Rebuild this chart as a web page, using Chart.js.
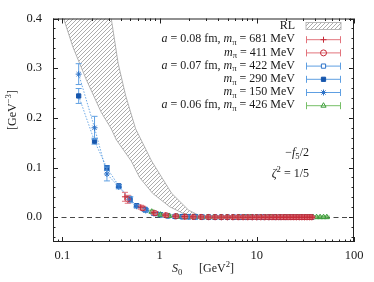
<!DOCTYPE html>
<html>
<head>
<meta charset="utf-8">
<script src="https://cdn.jsdelivr.net/npm/chart.js@4/dist/chart.umd.min.js"></script>
<style>
  html, body { margin: 0; padding: 0; background: #fff; }
</style>
</head>
<body>
<canvas id="myChart" width="374" height="282"></canvas>
<script>
// RL band (lower and upper edge), S0 in GeV^2, value in GeV^-3
const bandLowS  = [0.103, 0.128, 0.176, 0.251, 0.318, 0.358, 0.511, 0.622, 0.847, 1.27, 1.88, 2.6, 3.4];
const bandLowV  = [0.400, 0.343, 0.277, 0.211, 0.178, 0.156, 0.113, 0.080, 0.048, 0.021, 0.0045, 0.0008, 0.0];
const bandHighS = [0.318, 0.374, 0.447, 0.566, 0.827, 1.33, 1.99, 2.58, 3.4];
const bandHighV = [0.400, 0.310, 0.245, 0.178, 0.113, 0.048, 0.014, 0.003, 0.0];

// a = 0.08 fm, m_pi = 681 MeV
const S_681 = [0.44, 0.64, 0.87, 1.14, 1.45, 1.8, 2.2, 2.65, 3.15, 3.7, 4.3, 4.95, 5.65, 6.4, 7.2, 8.1, 9.0, 10.0,
  11.1, 12.2, 13.4, 14.7, 16.0, 17.4, 18.9, 20.4, 22.0, 23.7, 25.4, 27.2, 29.1, 31.0, 33.0, 35.1, 37.2];
const V_681 = [0.041, 0.020, 0.009, 0.0042, 0.0021, 0.0011, 0.0006, 0.0004, 0.0003, 0.0002, 0.0002, 0.0001, 0.0001, 0.0001,
  0, 0, 0, 0, 0, 0, 0, 0, 0, 0, 0, 0, 0, 0, 0, 0, 0, 0, 0, 0, 0];
const E_681 = [0.009, 0.004, 0.003, 0.002, 0.002, 0.002, 0.002, 0.002, 0.002, 0.002, 0.002, 0.002, 0.002, 0.002,
  0.002, 0.002, 0.002, 0.002, 0.002, 0.002, 0.002, 0.002, 0.002, 0.002, 0.002, 0.002, 0.002, 0.002, 0.002, 0.002,
  0.002, 0.002, 0.002, 0.002, 0.002];

// m_pi = 411 MeV
const S_411 = [0.47, 0.67, 0.9, 1.17, 1.48, 1.83, 2.23, 2.68, 3.18, 3.73, 4.33, 4.98, 5.68, 6.43, 7.23, 8.08, 8.98, 9.93,
  10.9, 12.0, 13.1, 14.3, 15.5, 16.8, 18.1, 19.5, 21.0, 22.5, 24.1, 25.7, 27.4, 29.1, 30.9, 32.8, 34.7, 36.6];
const V_411 = [0.036, 0.018, 0.008, 0.0038, 0.0019, 0.001, 0.0005, 0.0003, 0.0002, 0.0001,
  0, 0, 0, 0, 0, 0, 0, 0, 0, 0, 0, 0, 0, 0, 0, 0, 0, 0, 0, 0, 0, 0, 0, 0, 0, 0];
const E_411 = [0.008, 0.004, 0.003, 0.002, 0.002, 0.002, 0.002, 0.002, 0.002, 0.002, 0.002, 0.002,
  0.002, 0.002, 0.002, 0.002, 0.002, 0.002, 0.002, 0.002, 0.002, 0.002, 0.002, 0.002, 0.002, 0.002,
  0.002, 0.002, 0.002, 0.002, 0.002, 0.002, 0.002, 0.002, 0.002, 0.002];

// a = 0.07 fm, m_pi = 422 MeV
const S_422 = [0.5, 0.7, 0.93, 1.2, 1.5, 1.85, 2.25, 2.7, 3.2, 3.75, 4.35, 5.0, 5.7, 6.5, 7.3, 8.2, 9.2, 10.2,
  11.3, 12.5, 13.8, 15.1, 16.5, 18.0, 19.6, 21.2, 22.9, 24.7, 26.6, 28.5, 30.5, 32.6, 34.7, 37.0];
const V_422 = [0.035, 0.016, 0.0068, 0.0034, 0.0018, 0.001, 0.0005, 0.0003, 0.0002, 0.0001,
  0, 0, 0, 0, 0, 0, 0, 0, 0, 0, 0, 0, 0, 0, 0, 0, 0, 0, 0, 0, 0, 0, 0, 0];
const E_422 = [0.006, 0.004, 0.003, 0.002, 0.002, 0.002, 0.002, 0.002, 0.002, 0.002, 0.002, 0.002,
  0.002, 0.002, 0.002, 0.002, 0.002, 0.002, 0.002, 0.002, 0.002, 0.002, 0.002, 0.002, 0.002, 0.002,
  0.002, 0.002, 0.002, 0.002, 0.002, 0.002, 0.002, 0.002];

// m_pi = 290 MeV
const S_290 = [0.147, 0.214, 0.287, 0.38, 0.49, 0.58, 0.72, 0.87, 1.03, 1.22, 1.44, 1.7, 2.0, 2.35, 2.75, 3.2, 3.7,
  4.3, 5.0, 5.8, 6.7, 7.7, 8.9, 10.2, 11.7, 13.4, 15.3, 17.4, 19.8, 22.5, 25.5, 28.8, 32.5, 36.6];
const V_290 = [0.244, 0.153, 0.099, 0.063, 0.038, 0.023, 0.0145, 0.0082, 0.0046, 0.0026, 0.0015, 0.0009, 0.0006,
  0.0004, 0.0003, 0.0002, 0.0001, 0.0001, 0, 0, 0, 0, 0, 0, 0, 0, 0, 0, 0, 0, 0, 0, 0, 0];
const E_290 = [0.015, 0.006, 0.005, 0.003, 0.003, 0.003, 0.002, 0.002, 0.002, 0.002, 0.002, 0.002,
  0.002, 0.002, 0.002, 0.002, 0.002, 0.002, 0.002, 0.002, 0.002, 0.002, 0.002, 0.002, 0.002, 0.002,
  0.002, 0.002, 0.002, 0.002, 0.002, 0.002, 0.002, 0.002];

// m_pi = 150 MeV
const S_150 = [0.147, 0.214, 0.287, 0.38, 0.49, 0.58, 0.72, 0.87, 1.03, 1.22, 1.44, 1.7, 2.0, 2.35, 2.75, 3.2, 3.7,
  4.3, 5.0, 5.8, 6.7, 7.7, 8.9, 10.2, 11.7, 13.4, 15.3, 17.4, 19.8];
const V_150 = [0.288, 0.180, 0.087, 0.061, 0.036, 0.022, 0.0135, 0.0076, 0.0042, 0.0023, 0.0013, 0.0008, 0.0005,
  0.0003, 0.0002, 0.0001, 0.0001, 0, 0, 0, 0, 0, 0, 0, 0, 0, 0, 0, 0];
const E_150 = [0.021, 0.023, 0.014, 0.004, 0.004, 0.003, 0.003, 0.002, 0.002, 0.002, 0.002, 0.002,
  0.002, 0.002, 0.002, 0.002, 0.002, 0.002, 0.002, 0.002, 0.002, 0.002, 0.002, 0.002, 0.002, 0.002,
  0.002, 0.002, 0.002];

// a = 0.06 fm, m_pi = 426 MeV
const S_426 = [0.83, 1.02, 1.25, 1.52, 1.84, 2.2, 2.62, 3.1, 3.64, 4.25, 4.93, 5.7, 6.55, 7.5, 8.55, 9.7, 11.0,
  12.4, 13.9, 15.6, 17.4, 19.4, 21.5, 23.8, 26.2, 28.8, 31.6, 34.6, 37.8, 41.2, 44.8, 48.6, 52.5];
const V_426 = [0.011, 0.005, 0.0025, 0.0012, 0.0007, 0.0004, 0.0002, 0.0001,
  0, 0, 0, 0, 0, 0, 0, 0, 0, 0, 0, 0, 0, 0, 0, 0, 0, 0, 0, 0, 0, 0, 0, 0, 0];
const E_426 = [0.003, 0.002, 0.002, 0.002, 0.002, 0.002, 0.002, 0.002, 0.002, 0.002, 0.002, 0.002,
  0.002, 0.002, 0.002, 0.002, 0.002, 0.002, 0.002, 0.002, 0.002, 0.002, 0.002, 0.002, 0.002, 0.002,
  0.002, 0.002, 0.002, 0.002, 0.002, 0.002, 0.002];

const xTicks = [0.1, 1, 10, 100];

const SERIF = '"Liberation Serif", "DejaVu Serif", serif';
const INK = '#1a1a1a';
const RED = '#c42a38', RED_L = '#e2737c';
const BLUE = '#2f73c8', BLUE_L = '#5e9fe2', BLUE_D = '#1656ad';
const GREEN = '#3d9c3d', GREEN_L = '#77bf68';
const TXT = 12;

const ctx = document.getElementById('myChart');

function hatchPattern() {
  const c = document.createElement('canvas');
  c.width = 4; c.height = 4;
  const g = c.getContext('2d');
  g.fillStyle = '#fff';
  g.fillRect(0, 0, 4, 4);
  g.strokeStyle = '#a3a3a3';
  g.lineWidth = 0.9;
  g.beginPath();
  g.moveTo(-1, 5); g.lineTo(5, -1);
  g.moveTo(-1, 1); g.lineTo(1, -1);
  g.moveTo(3, 5); g.lineTo(5, 3);
  g.stroke();
  return ctx.getContext('2d').createPattern(c, 'repeat');
}
const HATCH = hatchPattern();

const pts = (S, V) => S.map((s, i) => ({ x: s, y: V[i] }));
const bandShape = pts(bandLowS, bandLowV).concat(pts(bandHighS, bandHighV).reverse());

// small latex-ish text: [text, font, shift in em]
function rich(c, parts, x, y, align, size) {
  const fonts = {
    r: size + 'px ' + SERIF,
    i: 'italic ' + size + 'px ' + SERIF,
    s: (size * 0.72) + 'px ' + SERIF
  };
  let w = 0;
  parts.forEach(p => { c.font = fonts[p[1]]; w += c.measureText(p[0]).width; });
  let cx = align === 'right' ? x - w : align === 'center' ? x - w / 2 : x;
  c.textAlign = 'left';
  c.textBaseline = 'middle';
  parts.forEach(p => {
    c.font = fonts[p[1]];
    c.fillText(p[0], cx, y + (p[2] || 0) * size);
    cx += c.measureText(p[0]).width;
  });
}

const legendRows = [
  { parts: [['RL', 'r']], band: true },
  { parts: [['a', 'i'], [' = 0.08 fm, ', 'r'], ['m', 'i'], ['π', 's', 0.3], [' = 681 MeV', 'r']],
    line: RED_L, stroke: RED, fill: RED, style: 'cross' },
  { parts: [['m', 'i'], ['π', 's', 0.3], [' = 411 MeV', 'r']],
    line: RED_L, stroke: RED, fill: 'rgba(0,0,0,0)', style: 'circle' },
  { parts: [['a', 'i'], [' = 0.07 fm, ', 'r'], ['m', 'i'], ['π', 's', 0.3], [' = 422 MeV', 'r']],
    line: BLUE_L, stroke: BLUE, fill: '#fff', style: 'rect' },
  { parts: [['m', 'i'], ['π', 's', 0.3], [' = 290 MeV', 'r']],
    line: BLUE_L, stroke: BLUE_D, fill: BLUE_D, style: 'rect' },
  { parts: [['m', 'i'], ['π', 's', 0.3], [' = 150 MeV', 'r']],
    line: BLUE_L, stroke: BLUE, fill: BLUE, style: 'star' },
  { parts: [['a', 'i'], [' = 0.06 fm, ', 'r'], ['m', 'i'], ['π', 's', 0.3], [' = 426 MeV', 'r']],
    line: GREEN_L, stroke: GREEN, fill: 'rgba(0,0,0,0)', style: 'triangle' }
];

const decor = {
  id: 'decor',
  beforeDatasetsDraw(chart) {
    const { ctx: c, chartArea: a, scales: { y } } = chart;
    const y0 = Math.round(y.getPixelForValue(0)) + 0.5;
    c.save();
    c.strokeStyle = '#333';
    c.lineWidth = 0.9;
    c.setLineDash([5, 3.5]);
    c.beginPath(); c.moveTo(a.left, y0); c.lineTo(a.right, y0); c.stroke();
    c.restore();
  },
  beforeDatasetDraw(chart, args) {
    const ds = chart.data.datasets[args.index];
    if (!ds.errors) return;
    const { ctx: c, chartArea: a, scales: { x, y } } = chart;
    c.save();
    c.beginPath(); c.rect(a.left, a.top, a.right - a.left, a.bottom - a.top); c.clip();
    c.strokeStyle = ds.errColor;
    c.lineWidth = 1;
    ds.data.forEach((p, i) => {
      const e = ds.errors[i];
      if (!e) return;
      const px = x.getPixelForValue(p.x);
      const t = y.getPixelForValue(p.y + e), b = y.getPixelForValue(p.y - e);
      c.beginPath();
      c.moveTo(px, t); c.lineTo(px, b);
      c.moveTo(px - 3, t); c.lineTo(px + 3, t);
      c.moveTo(px - 3, b); c.lineTo(px + 3, b);
      c.stroke();
    });
    c.restore();
  },
  afterDatasetsDraw(chart) {
    const { ctx: c, chartArea: a, scales: { x, y } } = chart;
    c.save();
    c.strokeStyle = '#222';
    c.lineWidth = 1;
    c.strokeRect(a.left + 0.5, a.top + 0.5, a.right - a.left - 1, a.bottom - a.top - 1);
    c.beginPath();
    for (let e = -2; e <= 2; e++) {
      for (let k = 1; k <= 9; k++) {
        const v = k * Math.pow(10, e);
        if (v < 0.0799 || v > 100.01) continue;
        const px = Math.round(x.getPixelForValue(v)) + 0.5;
        const len = k === 1 ? 5 : 2.5;
        c.moveTo(px, a.bottom); c.lineTo(px, a.bottom - len);
        c.moveTo(px, a.top); c.lineTo(px, a.top + len);
      }
    }
    for (let i = -2; i <= 20; i++) {
      const py = Math.round(y.getPixelForValue(i * 0.02)) + 0.5;
      const len = i % 5 === 0 ? 5 : 2.5;
      c.moveTo(a.left, py); c.lineTo(a.left + len, py);
      c.moveTo(a.right, py); c.lineTo(a.right - len, py);
    }
    c.stroke();
    c.restore();
  },
  afterDraw(chart) {
    const c = chart.ctx;
    c.save();
    // legend
    legendRows.forEach((row, i) => {
      const ly = 26 + i * 13.2;
      c.fillStyle = INK;
      rich(c, row.parts, 295, ly, 'right', TXT);
      if (row.band) {
        c.fillStyle = HATCH;
        c.fillRect(306, ly - 3.5, 35, 7);
        c.strokeStyle = '#a8a8a8';
        c.lineWidth = 0.8;
        c.strokeRect(306, ly - 3.5, 35, 7);
        return;
      }
      c.strokeStyle = row.line;
      c.lineWidth = 1;
      c.beginPath();
      c.moveTo(306, ly + 0.5); c.lineTo(341, ly + 0.5);
      c.moveTo(306.5, ly - 3); c.lineTo(306.5, ly + 4);
      c.moveTo(340.5, ly - 3); c.lineTo(340.5, ly + 4);
      c.stroke();
      c.strokeStyle = row.stroke;
      c.fillStyle = row.fill;
      Chart.helpers.drawPoint(c, { pointStyle: row.style, radius: 3, borderWidth: 1, rotation: 0 }, 323.5, ly + 0.5);
    });
    // annotation
    c.fillStyle = INK;
    rich(c, [['−', 'r'], ['f', 'i'], ['5', 's', 0.3], ['/2', 'r']], 309, 153, 'right', TXT);
    rich(c, [['ζ', 'i'], ['2', 's', -0.35], [' = 1/5', 'r']], 309, 174, 'right', TXT);
    // axis titles
    rich(c, [['S', 'i'], ['0', 's', 0.3]], 172, 269, 'left', TXT);
    rich(c, [['[GeV', 'r'], ['2', 's', -0.35], [']', 'r']], 199, 269, 'left', TXT);
    c.translate(13, 110);
    c.rotate(-Math.PI / 2);
    rich(c, [['[GeV', 'r'], ['−3', 's', -0.35], [']', 'r']], 0, 0, 'center', TXT);
    c.restore();
  }
};

Chart.defaults.font.family = SERIF;
Chart.defaults.font.size = 12.5;
Chart.defaults.color = INK;

new Chart(ctx, {
  type: 'scatter',
  data: {
    datasets: [
      { label: 'RL', data: bandShape, showLine: true, fill: 'shape', backgroundColor: HATCH,
        borderColor: '#a0a0a0', borderWidth: 0.8, pointRadius: 0, order: 10 },
      { label: 'm_pi = 290 MeV', data: pts(S_290, V_290), errors: E_290, errColor: BLUE_L,
        showLine: true, borderColor: BLUE_L, borderWidth: 0.9, borderDash: [1.5, 1.5],
        pointStyle: 'rect', pointRadius: 3, pointBackgroundColor: BLUE_D, pointBorderColor: BLUE_D,
        pointBorderWidth: 1, order: 6 },
      { label: 'm_pi = 150 MeV', data: pts(S_150, V_150), errors: E_150, errColor: BLUE_L,
        showLine: true, borderColor: BLUE_L, borderWidth: 0.9, borderDash: [1.5, 1.5],
        pointStyle: 'star', pointRadius: 3, pointBackgroundColor: BLUE, pointBorderColor: BLUE,
        pointBorderWidth: 1, order: 5 },
      { label: 'a = 0.07 fm, m_pi = 422 MeV', data: pts(S_422, V_422), errors: E_422, errColor: BLUE_L,
        pointStyle: 'rect', pointRadius: 2.8, pointBackgroundColor: 'rgba(0,0,0,0)', pointBorderColor: BLUE,
        pointBorderWidth: 1, order: 4 },
      { label: 'a = 0.06 fm, m_pi = 426 MeV', data: pts(S_426, V_426), errors: E_426, errColor: GREEN_L,
        pointStyle: 'triangle', pointRadius: 3, pointBackgroundColor: 'rgba(0,0,0,0)', pointBorderColor: GREEN,
        pointBorderWidth: 1, order: 3 },
      { label: 'm_pi = 411 MeV', data: pts(S_411, V_411), errors: E_411, errColor: RED_L,
        pointStyle: 'circle', pointRadius: 2.6, pointBackgroundColor: 'rgba(0,0,0,0)', pointBorderColor: RED,
        pointBorderWidth: 1, order: 2 },
      { label: 'a = 0.08 fm, m_pi = 681 MeV', data: pts(S_681, V_681), errors: E_681, errColor: RED_L,
        pointStyle: 'cross', pointRadius: 3, pointBorderColor: RED, pointBorderWidth: 1, order: 1 }
    ]
  },
  options: {
    responsive: false,
    animation: false,
    events: [],
    layout: { autoPadding: false, padding: { left: 0, right: 20, top: 9.7, bottom: 0 } },
    plugins: {
      legend: { display: false },
      tooltip: { enabled: false }
    },
    scales: {
      x: {
        type: 'logarithmic',
        min: 0.08,
        max: 100,
        grid: { display: false, drawTicks: false },
        border: { display: false },
        afterFit: s => { s.height = 40; },
        afterBuildTicks: s => { s.ticks = xTicks.map(v => ({ value: v })); },
        ticks: {
          autoSkip: false,
          maxRotation: 0,
          padding: 6,
          callback: v => String(v)
        }
      },
      y: {
        min: -0.05,
        max: 0.4,
        grid: { display: false, drawTicks: false },
        border: { display: false },
        afterFit: s => { s.width = 53; },
        ticks: {
          stepSize: 0.1,
          padding: 11,
          callback: v => (v < -0.01 ? '' : v.toFixed(1))
        }
      }
    }
  },
  plugins: [decor]
});
</script>
</body>
</html>
